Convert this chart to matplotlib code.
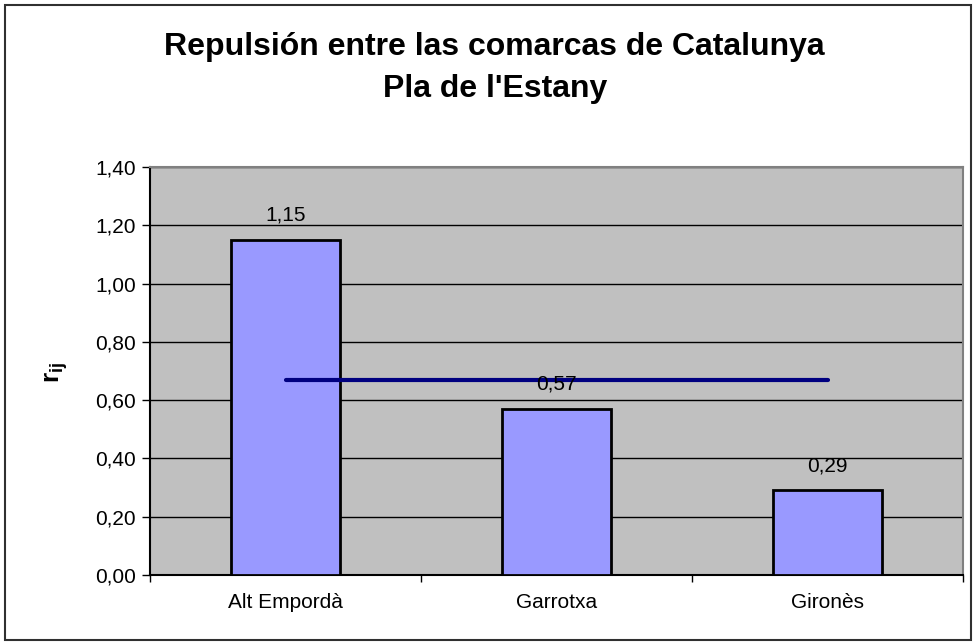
import matplotlib
matplotlib.use('Agg')
import matplotlib.pyplot as plt
from matplotlib.patches import Rectangle

comarques = ['Alt Empordà', 'Garrotxa', 'Gironès']
valors = [1.15, 0.57, 0.29]
mitjana = 0.67
yticks = [0.0, 0.2, 0.4, 0.6, 0.8, 1.0, 1.2, 1.4]

plt.rcParams['font.family'] = ['Liberation Sans', 'DejaVu Sans']
plt.rcParams['mathtext.fontset'] = 'custom'
plt.rcParams['mathtext.rm'] = 'Liberation Sans'
plt.rcParams['mathtext.bf'] = 'Liberation Sans:bold'

fig = plt.figure(figsize=(9.74, 6.44), dpi=100)
fig.patches.append(Rectangle((0.005, 0.006), 0.992, 0.987, transform=fig.transFigure,
                             fill=False, edgecolor='#303030', linewidth=1.5))

ax = fig.add_axes([150/974, 1 - 575/644, (963-150)/974, (575-167)/644])
ax.set_facecolor('#C0C0C0')

x = list(range(len(comarques)))
ax.bar(x, valors, width=0.40, color='#9999FF', edgecolor='black', linewidth=2, zorder=3)
ax.plot([x[0], x[-1]], [mitjana, mitjana], color='#000080', linewidth=3,
        solid_capstyle='round', zorder=4)

for xi, v in zip(x, valors):
    ax.annotate(('%.2f' % v).replace('.', ','), (xi, v), xytext=(0, 11),
                textcoords='offset points', ha='center', va='bottom', fontsize=15, zorder=5)

ax.set_xlim(-0.5, 2.5)
ax.set_ylim(0, 1.4)
ax.set_yticks(yticks)
ax.set_yticklabels([('%.2f' % t).replace('.', ',') for t in yticks], fontsize=15)
ax.yaxis.grid(True, color='black', linewidth=1)
ax.set_axisbelow(True)

ax.set_xticks(x)
ax.set_xticklabels(comarques, fontsize=15)
ax.set_xticks([-0.5, 0.5, 1.5, 2.5], minor=True)
ax.tick_params(axis='x', which='major', length=0, pad=13)
ax.tick_params(axis='x', which='minor', length=5, width=1, direction='out')
ax.tick_params(axis='y', length=6, width=1, direction='out', pad=4)

ax.spines['left'].set_color('black')
ax.spines['bottom'].set_color('black')
ax.spines['top'].set_color('#808080')
ax.spines['right'].set_color('#808080')
for s in ax.spines.values():
    s.set_linewidth(1.5)

fig.text(57/974, 1 - 372/644, r'$\mathbf{r}_{\mathbf{ij}}$', rotation=90, fontsize=19,
         ha='center', va='center')

fig.text(0.508, 1 - 47/644, 'Repulsión entre las comarcas de Catalunya', fontsize=23,
         fontweight='bold', ha='center', va='center')
fig.text(0.508, 1 - 89/644, "Pla de l'Estany", fontsize=23,
         fontweight='bold', ha='center', va='center')

fig.savefig('out.png', dpi=100)
